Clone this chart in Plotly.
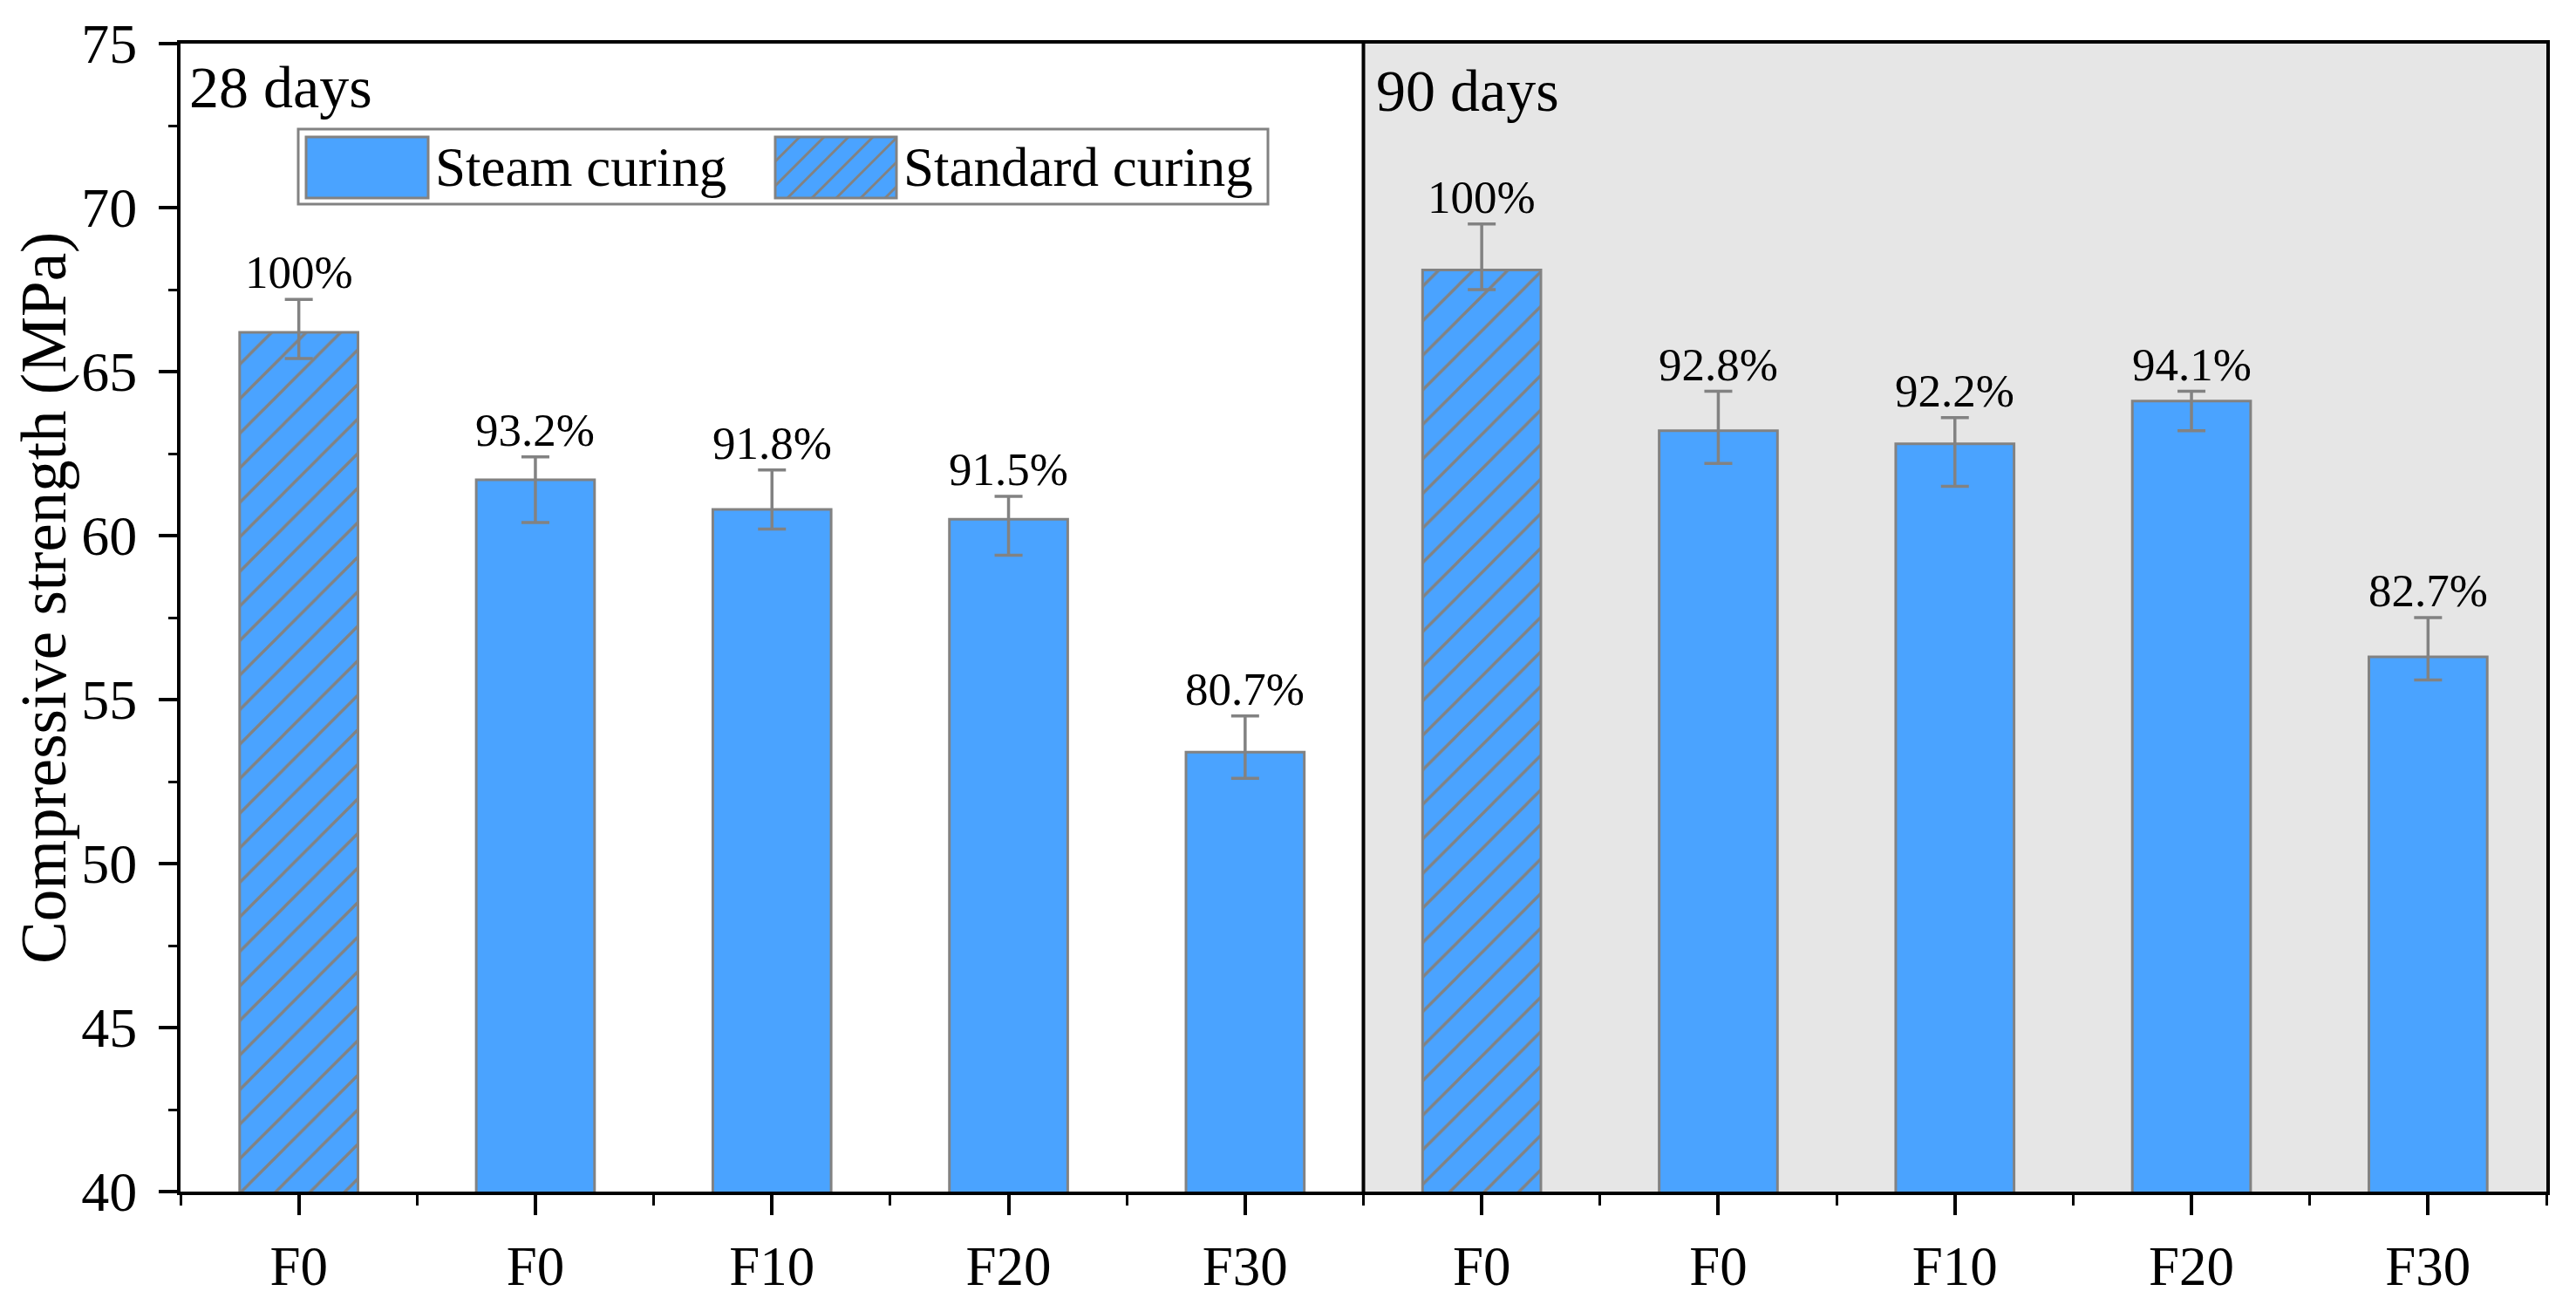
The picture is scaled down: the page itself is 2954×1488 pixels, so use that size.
import plotly.graph_objects as go

# ---------------- data ----------------
categories = ["F0", "F0", "F10", "F20", "F30", "F0", "F0", "F10", "F20", "F30"]
curing = ["Standard curing", "Steam curing", "Steam curing", "Steam curing", "Steam curing",
          "Standard curing", "Steam curing", "Steam curing", "Steam curing", "Steam curing"]
strength = [66.2, 61.7, 60.8, 60.5, 53.4, 68.1, 63.2, 62.8, 64.1, 56.3]
err_plus = [1.0, 0.7, 1.2, 0.7, 1.1, 1.4, 1.2, 0.8, 0.3, 1.2]
err_minus = [0.8, 1.3, 0.6, 1.1, 0.8, 0.6, 1.0, 1.3, 0.9, 0.7]
ratio_labels = ["100%", "93.2%", "91.8%", "91.5%", "80.7%",
                "100%", "92.8%", "92.2%", "94.1%", "82.7%"]
panel_labels = ["28 days", "90 days"]
y_title = "Compressive strength (MPa)"
y_ticks = [40, 45, 50, 55, 60, 65, 70, 75]

# ---------------- style ----------------
W, H = 2954, 1488
L, R, T, B = 207, 2920, 50, 1366
FONT = "Liberation Serif"
BLUE = "#4AA3FF"
GREY = "#828282"
PANEL_BG = "#E6E6E6"
HATCH = 28

positions = list(range(len(categories)))
n_per_panel = len(categories) // 2

fig = go.Figure()

for name in ["Steam curing", "Standard curing"]:
    idx = [i for i, c in enumerate(curing) if c == name]
    pattern = dict(shape="/", size=HATCH, solidity=0.12, fgcolor=GREY,
                   bgcolor=BLUE, fillmode="replace") if name == "Standard curing" else dict(shape="")
    fig.add_trace(go.Bar(
        x=[positions[i] for i in idx],
        y=[strength[i] for i in idx],
        name=name,
        width=0.5,
        base=0,
        marker=dict(color=BLUE, line=dict(color=GREY, width=3), pattern=pattern),
        error_y=dict(type="data", symmetric=False,
                     array=[err_plus[i] for i in idx],
                     arrayminus=[err_minus[i] for i in idx],
                     color=GREY, thickness=3.5, width=16),
        showlegend=False,
    ))

# percentage labels
for i, p in enumerate(positions):
    fig.add_annotation(x=p, y=strength[i] + err_plus[i], text=ratio_labels[i],
                       showarrow=False, yanchor="bottom", xanchor="center", yshift=0,
                       font=dict(family=FONT, size=53, color="black"))

# panel background and divider
split = n_per_panel - 0.5
fig.add_shape(type="rect", xref="x", yref="paper", x0=split, x1=len(categories) - 0.5,
              y0=0, y1=1, fillcolor=PANEL_BG, line=dict(width=0), layer="below")
fig.add_shape(type="line", xref="x", yref="paper", x0=split, x1=split, y0=0, y1=1,
              line=dict(color="black", width=4))

# panel labels
fig.add_annotation(x=-0.5, y=1, xref="x", yref="paper", text=panel_labels[0],
                   showarrow=False, xanchor="left", yanchor="top", xshift=8, yshift=-10,
                   font=dict(family=FONT, size=68, color="black"))
fig.add_annotation(x=split, y=1, xref="x", yref="paper", text=panel_labels[1],
                   showarrow=False, xanchor="left", yanchor="top", xshift=12, yshift=-14,
                   font=dict(family=FONT, size=68, color="black"))


# ---------------- helpers (page pixels -> paper) ----------------
def px(x):
    return (x - L) / (R - L)


def py(y):
    return (B - y) / (B - T)


# y axis title
fig.add_annotation(x=px(50), y=py(686), xref="paper", yref="paper", text=y_title,
                   textangle=-90, showarrow=False, xanchor="center", yanchor="middle",
                   font=dict(family=FONT, size=73, color="black"))


# ---------------- manual legend ----------------
def rect(x0, y0, x1, y1, **kw):
    fig.add_shape(type="rect", xref="paper", yref="paper",
                  x0=px(x0), x1=px(x1), y0=py(y1), y1=py(y0), **kw)


rect(342, 148, 1454, 234, fillcolor="white", line=dict(color=GREY, width=3), layer="above")
sw1 = (351, 157, 491, 227)
sw2 = (889, 157, 1028, 227)
rect(*sw1, fillcolor=BLUE, line=dict(color=GREY, width=3), layer="above")
rect(*sw2, fillcolor=BLUE, line=dict(width=0), layer="above")
# hatch lines in swatch 2
x0, y0, x1, y1 = sw2
c = x0 + y0
while c < x1 + y1:
    a = max(x0, c - y1)
    b = min(x1, c - y0)
    if b > a:
        fig.add_shape(type="line", xref="paper", yref="paper",
                      x0=px(a), y0=py(c - a), x1=px(b), y1=py(c - b),
                      line=dict(color=GREY, width=3), layer="above")
    c += HATCH
rect(*sw2, fillcolor="rgba(0,0,0,0)", line=dict(color=GREY, width=3), layer="above")

for (sw, name) in [(sw1, "Steam curing"), (sw2, "Standard curing")]:
    fig.add_annotation(x=px(sw[2] + 6), y=py((sw[1] + sw[3]) / 2), xref="paper", yref="paper",
                       text=name, showarrow=False, xanchor="left", yanchor="middle",
                       font=dict(family=FONT, size=63, color="black"))

# ---------------- layout ----------------
fig.update_layout(
    width=W, height=H, autosize=False,
    margin=dict(l=L, r=W - R, t=T, b=H - B, pad=0, autoexpand=False),
    paper_bgcolor="white", plot_bgcolor="white",
    barmode="overlay",
    font=dict(family=FONT, color="black"),
    xaxis=dict(
        automargin=False,
        range=[-0.5, len(categories) - 0.5],
        tickmode="array", tickvals=positions, ticktext=categories,
        showline=True, mirror=True, linecolor="black", linewidth=4,
        ticks="outside", ticklen=23, tickwidth=3.5, tickcolor="black",
        tickfont=dict(family=FONT, size=63, color="black"),
        ticklabelstandoff=4,
        showgrid=False, zeroline=False,
        minor=dict(tickmode="array", tickvals=[p - 0.5 for p in positions] + [positions[-1] + 0.5],
                   ticks="outside", ticklen=12, tickwidth=3, tickcolor="black", showgrid=False),
    ),
    yaxis=dict(
        automargin=False,
        range=[y_ticks[0], y_ticks[-1]],
        tickmode="array", tickvals=y_ticks,
        showline=True, mirror=True, linecolor="black", linewidth=4,
        ticks="outside", ticklen=21, tickwidth=3.5, tickcolor="black",
        tickfont=dict(family=FONT, size=64, color="black"),
        ticklabelstandoff=12,
        showgrid=False, zeroline=False,
        minor=dict(dtick=2.5, ticks="outside", ticklen=10, tickwidth=3, tickcolor="black",
                   showgrid=False),
    ),
)

# remove the browser's default 8px body margin so the figure fills the window exactly
fig.write_html("out.html", config={"displayModeBar": False},
               post_script="document.body.style.margin='0';document.body.style.overflow='hidden';")
